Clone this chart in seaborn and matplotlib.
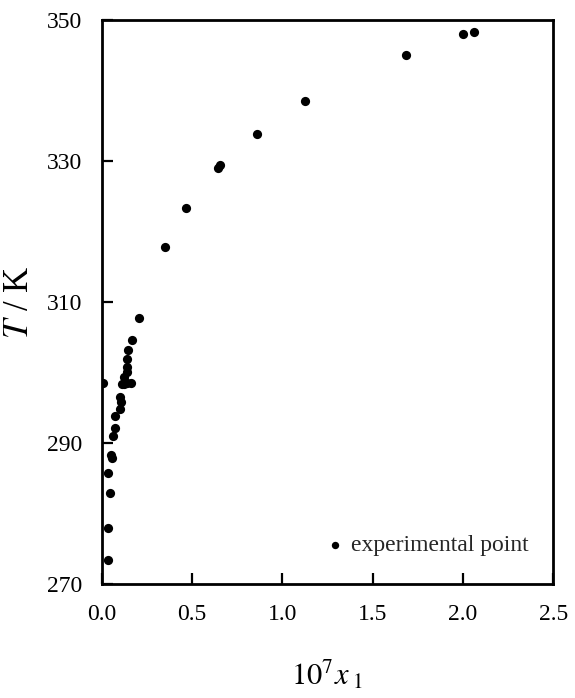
import matplotlib
matplotlib.use('Agg')
import matplotlib.pyplot as plt
import seaborn as sns
import pandas as pd

# mole fraction (x 1e7) and temperature
x1 = [0.005, 0.035, 0.035, 0.048, 0.036, 0.057, 0.050, 0.060, 0.072, 0.076,
      0.100, 0.109, 0.100, 0.110, 0.125, 0.140, 0.160, 0.124, 0.137, 0.140,
      0.142, 0.146, 0.170, 0.205, 0.350, 0.465, 0.645, 0.655, 0.860, 1.125,
      1.685, 2.000, 2.060]
T = [298.5, 273.5, 278.0, 283.0, 285.8, 287.9, 288.4, 291.0, 292.2, 293.8,
     294.9, 295.8, 296.6, 298.4, 298.4, 298.5, 298.5, 299.4, 300.1, 300.8,
     302.0, 303.2, 304.7, 307.8, 317.9, 323.3, 329.0, 329.4, 333.9, 338.6,
     345.1, 348.0, 348.3]
x_ticks = [0.0, 0.5, 1.0, 1.5, 2.0, 2.5]
y_ticks = [270, 290, 310, 330, 350]

df = pd.DataFrame({'x': x1, 'T': T})

sns.set_style('ticks')
plt.rcParams['font.family'] = ['Liberation Serif', 'DejaVu Serif']
plt.rcParams['mathtext.fontset'] = 'stix'

fig = plt.figure(figsize=(5.75, 6.98), dpi=100)
ax = fig.add_axes([0.177, 0.163, 0.785, 0.808])

sns.scatterplot(data=df, x='x', y='T', ax=ax, color='black', s=44,
                edgecolor='black', linewidth=0, label='experimental point')

ax.set_xlim(0, 2.5)
ax.set_ylim(270, 350)
ax.set_xticks(x_ticks)
ax.set_xticklabels([f'{v:.1f}' for v in x_ticks])
ax.set_yticks(y_ticks)
ax.tick_params(direction='in', length=8, width=1.6, labelsize=17,
               color='black', labelcolor='black', top=False, right=False)
ax.tick_params(axis='x', pad=14)
ax.tick_params(axis='y', pad=14)
for sp in ax.spines.values():
    sp.set_linewidth(2)
    sp.set_color('black')

ax.set_xlabel(r'$10^{7}x_{\ 1}$', fontsize=22, labelpad=24, color='black')
ax.set_ylabel(r'$T$ / K', fontsize=25, labelpad=8, color='black')

leg = ax.legend(loc='center left', frameon=False, fontsize=17,
                handletextpad=0.2, handlelength=1.0, borderpad=0,
                borderaxespad=0, markerscale=0.8,
                bbox_to_anchor=(0.49, 0.069))

fig.savefig('out.png', dpi=100)
